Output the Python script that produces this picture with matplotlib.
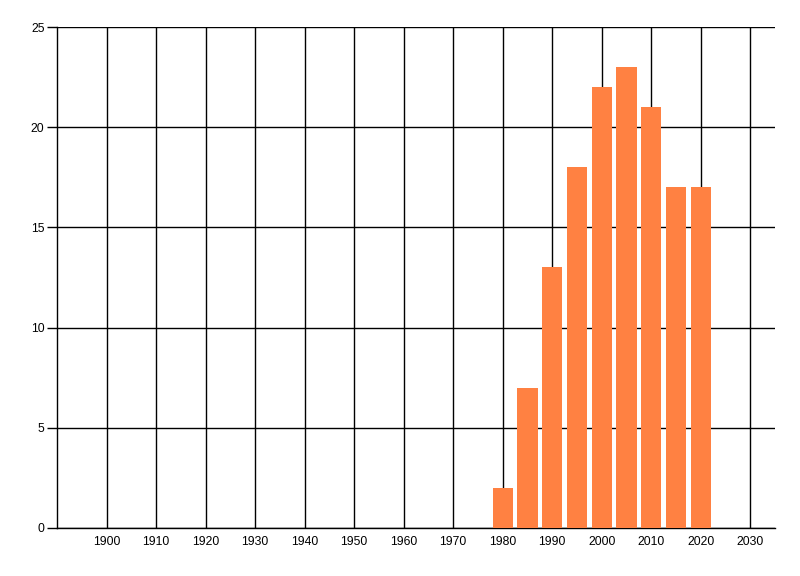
import numpy as np
import matplotlib.pyplot as plt

years = [1980, 1985, 1990, 1995, 2000, 2005, 2010, 2015, 2020]
counts = [2, 7, 13, 18, 22, 23, 21, 17, 17]
x_ticks = list(range(1900, 2031, 10))
y_ticks = [0, 5, 10, 15, 20, 25]

plt.rcParams['font.family'] = ['Liberation Sans', 'DejaVu Sans']

fig = plt.figure(figsize=(8, 5.76), dpi=100)
ax = fig.add_axes([57 / 800, 48 / 576, 718 / 800, 501 / 576])

ax.bar(years, counts, width=4.1, color='#FF8142', zorder=3)

ax.set_xlim(1890, 2035)
ax.set_ylim(0, 25)
ax.set_xticks(x_ticks)
ax.set_yticks(y_ticks)
ax.grid(True, color='black', linewidth=1, zorder=0)

for side in ['top', 'right']:
    ax.spines[side].set_visible(False)
ax.spines['left'].set_linewidth(1)
ax.spines['bottom'].set_linewidth(1)

ax.tick_params(axis='x', length=0, pad=6, labelsize=8.8)
ax.tick_params(axis='y', length=7, width=1, pad=2, labelsize=8.8)

fig.savefig('out.png', dpi=100)
